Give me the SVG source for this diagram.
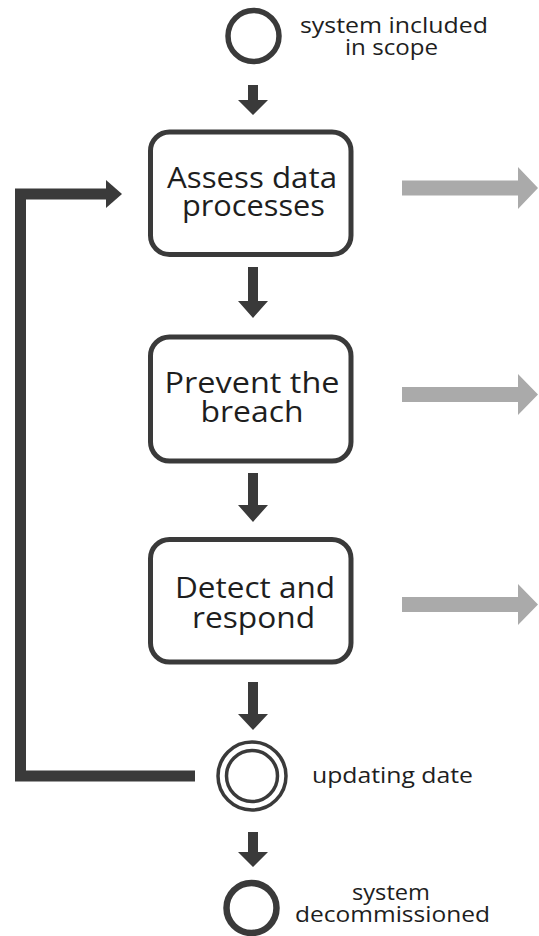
<svg xmlns="http://www.w3.org/2000/svg" width="539" height="936" viewBox="0 0 539 936">
<style>
.box{fill:#fff;stroke:#3a3a3a;stroke-width:5}
.t{font-family:"Open Sans","Liberation Sans",sans-serif;fill:#1e1e1e;text-anchor:middle}
.big{font-size:30px}
.lbl{font-size:22px}
.dark{fill:#3a3a3a}
.gray{fill:#aaaaaa}
.ev{fill:#fff;stroke:#3a3a3a}
</style>
<rect width="539" height="936" fill="#fff"/>
<g id="connectors">
<path class="dark" d="M248,85 H258 V100 H268 L253,115 L238,100 H248 Z"/>
<path class="dark" d="M248,267 H258 V301 H268 L253,318 L238,301 H248 Z"/>
<path class="dark" d="M248,473 H258 V505 H268 L253,522 L238,505 H248 Z"/>
<path class="dark" d="M248,682 H258 V714 H268 L253,730 L238,714 H248 Z"/>
<path class="dark" d="M248,832 H258 V852 H268 L253,867 L238,852 H248 Z"/>
<path d="M195,776 H20.5 V194 H108" fill="none" stroke="#3a3a3a" stroke-width="11" stroke-linejoin="miter"/>
<path class="dark" d="M106,180 L122,194 L106,208 Z"/>
<path class="gray" d="M402,180.5 H518 V167 L538,188 L518,209 V195.5 H402 Z"/>
<path class="gray" d="M402,387 H518 V374 L538,394.5 L518,415 V402 H402 Z"/>
<path class="gray" d="M402,597 H518 V584 L538,604.5 L518,625 V612 H402 Z"/>
</g>
<g id="start">
<circle class="ev" cx="253.5" cy="36" r="25.5" stroke-width="5.5"/>
<text class="t lbl" x="394" y="33" textLength="188" lengthAdjust="spacingAndGlyphs">system included</text>
<text class="t lbl" x="391.5" y="55" textLength="93" lengthAdjust="spacingAndGlyphs">in scope</text>
</g>
<g id="assess">
<rect class="box" x="150.5" y="132" width="200.5" height="122.5" rx="19"/>
<text class="t big" x="252" y="188" textLength="170" lengthAdjust="spacingAndGlyphs">Assess data</text>
<text class="t big" x="253.5" y="216" textLength="143" lengthAdjust="spacingAndGlyphs">processes</text>
</g>
<g id="prevent">
<rect class="box" x="150.5" y="337" width="200.5" height="124" rx="19"/>
<text class="t big" x="252" y="393" textLength="175" lengthAdjust="spacingAndGlyphs">Prevent the</text>
<text class="t big" x="252" y="422" textLength="103" lengthAdjust="spacingAndGlyphs">breach</text>
</g>
<g id="detect">
<rect class="box" x="150.5" y="539.5" width="200.5" height="122.5" rx="19"/>
<text class="t big" x="255" y="598" textLength="160" lengthAdjust="spacingAndGlyphs">Detect and</text>
<text class="t big" x="253.5" y="628" textLength="123" lengthAdjust="spacingAndGlyphs">respond</text>
</g>
<g id="update">
<circle class="ev" cx="252" cy="776" r="34" stroke-width="3.5"/>
<circle class="ev" cx="252" cy="776" r="25.5" stroke-width="3.5"/>
<text class="t lbl" x="392.5" y="783" textLength="161" lengthAdjust="spacingAndGlyphs">updating date</text>
</g>
<g id="end">
<circle class="ev" cx="251.5" cy="908" r="25" stroke-width="6.5"/>
<text class="t lbl" x="391" y="900" textLength="78" lengthAdjust="spacingAndGlyphs">system</text>
<text class="t lbl" x="392.5" y="922" textLength="195" lengthAdjust="spacingAndGlyphs">decommissioned</text>
</g>
</svg>
